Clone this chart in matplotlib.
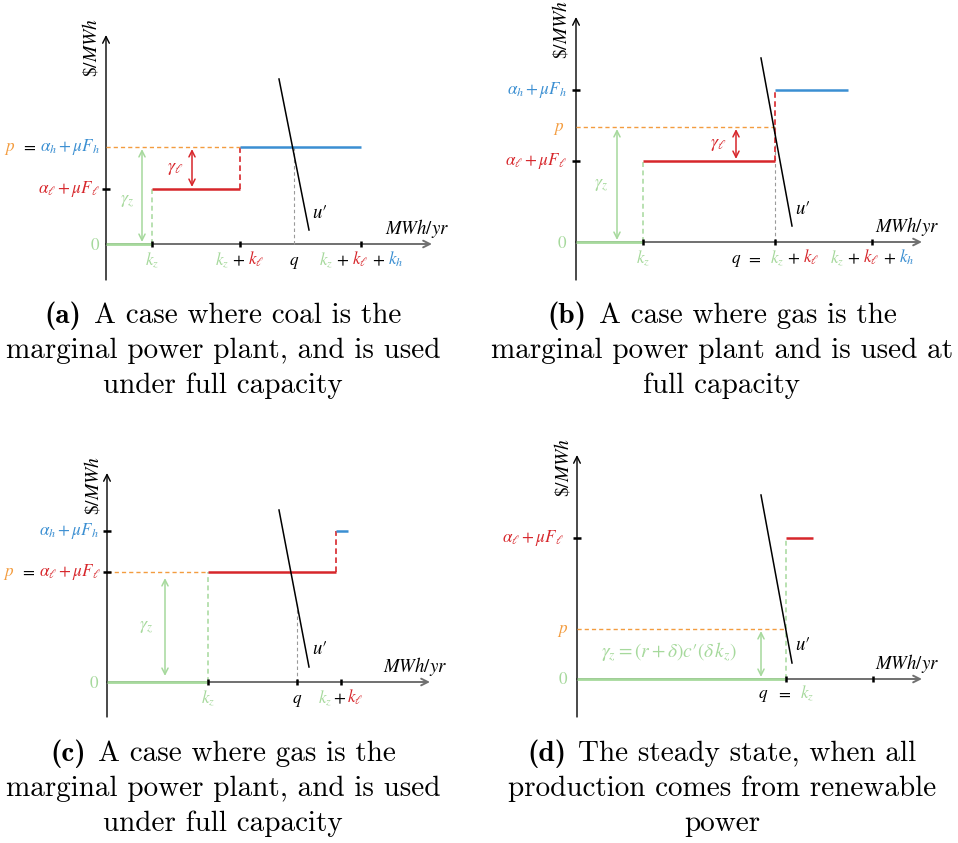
import matplotlib
matplotlib.use('Agg')
import matplotlib.pyplot as plt
from matplotlib.transforms import offset_copy

plt.rcParams['mathtext.fontset'] = 'stix'
plt.rcParams['lines.scale_dashes'] = False

W, H = 958, 843
fig = plt.figure(figsize=(W / 100, H / 100), dpi=100)
fig.patch.set_facecolor('white')

GREEN = '#a6d99c'
RED = '#d7262b'
BLUE = '#3b8fd2'
ORANGE = '#f39c3f'
GRAYAX = '#707070'
GRAYD = '#9a9a9a'
FS = 12.3
CAP_FS = 21

# ---------------- data (schematic units) ----------------
# (a) coal marginal, under full capacity
a_caps = [4.6, 8.8, 12.1]          # k_z, k_l, k_h
a_costs = [0.0, 5.5, 9.7]          # renewable, coal (alpha_l+muF_l), gas (alpha_h+muF_h)
a_price = 9.7
a_q = 18.8
a_demand_x = [17.3, 20.3]
a_demand_y = [16.5, 1.4]

# (b) gas marginal, used at full capacity
b_caps = [6.7, 13.2, 9.7]
b_costs = [0.0, 8.1, 15.2]
b_price = 11.5
b_q = 19.9
b_gas_end = 27.2
b_demand_x = [18.5, 21.6]
b_demand_y = [18.4, 1.6]

# (c) gas marginal, under full capacity
c_caps = [10.1, 13.3]
c_costs = [0.0, 11.0, 15.1]
c_price = 11.0
c_q = 19.0
c_gas_end = 22.9
c_coal_end = 24.1
c_demand_x = [17.2, 20.2]
c_demand_y = [17.2, 1.5]

# (d) steady state, renewables only
d_caps = [20.9]
d_costs = [0.0, 14.1]
d_price = 5.0
d_extra_tick = 29.6
d_gas_end = 23.6
d_demand_x = [18.4, 21.5]
d_demand_y = [18.4, 1.6]

CAPTIONS = {
    'a': ('(a)', 'A case where coal is the', 'marginal power plant, and is used', 'under full capacity'),
    'b': ('(b)', 'A case where gas is the', 'marginal power plant and is used at', 'full capacity'),
    'c': ('(c)', 'A case where gas is the', 'marginal power plant, and is used', 'under full capacity'),
    'd': ('(d)', 'The steady state, when all', 'production comes from renewable', 'power'),
}

# ---------------- helpers ----------------
XL = (-12.0, 37.0)
YL = (-5.0, 24.0)
S = 10.0  # pixels per schematic unit


def make_ax(ox, oy):
    left = (ox + XL[0] * S) / W
    bottom = (H - oy + YL[0] * S) / H
    ax = fig.add_axes([left, bottom, (XL[1] - XL[0]) * S / W, (YL[1] - YL[0]) * S / H])
    ax.set_xlim(XL)
    ax.set_ylim(YL)
    ax.set_axis_off()
    return ax


def rich(ax, x, y, pieces, ha='left', dx=0.0, dy=0.0, size=FS):
    """pieces: list of (text, color, gap_before_px, family or None)"""
    r = fig.canvas.get_renderer()
    widths = []
    for p in pieces:
        s, c, g, fam = p
        kw = {'family': fam} if fam else {}
        t = ax.text(0, 0, s, fontsize=size, **kw)
        widths.append(t.get_window_extent(renderer=r).width)
        t.remove()
    total = sum(widths) + sum(p[2] for p in pieces[1:])
    start = {'left': 0.0, 'center': -total / 2.0, 'right': -total}[ha]
    pos = start + dx
    for i, (p, w) in enumerate(zip(pieces, widths)):
        s, c, g, fam = p
        if i > 0:
            pos += g
        kw = {'family': fam} if fam else {}
        tr = offset_copy(ax.transData, fig=fig, x=pos, y=dy, units='dots')
        ax.text(x, y, s, color=c, fontsize=size, transform=tr, ha='left', va='baseline', **kw)
        pos += w


def P(s, c='black', g=0.0, fam=None):
    return (s, c, g, fam)


def draw_axes(ax, xend, ytop, ybot):
    ax.annotate('', xy=(xend, 0), xytext=(0, 0), zorder=1,
                arrowprops=dict(arrowstyle='->', color=GRAYAX, lw=1.4, shrinkA=0, shrinkB=0,
                                mutation_scale=12))
    ax.annotate('', xy=(0, ytop), xytext=(0, ybot), zorder=1,
                arrowprops=dict(arrowstyle='->', color='black', lw=1.0, shrinkA=0, shrinkB=0,
                                mutation_scale=12))
    ax.text(-1.5, ytop - 1.3, r'$\$/MWh$', rotation=90, ha='center', va='center', fontsize=14)
    ax.text(xend + 1.7, 1.0, r'$MWh/yr$', ha='right', va='baseline', fontsize=13.5)


def hseg(ax, x0, x1, y, color, lw=1.8, dashed=False, z=3):
    kw = dict(dashes=(3.0, 2.2)) if dashed else {}
    ax.plot([x0, x1], [y, y], color=color, lw=lw, zorder=z, solid_capstyle='butt', **kw)


def vseg(ax, x, y0, y1, color, lw=1.0, dashes=(3.5, 2.5), z=2):
    ax.plot([x, x], [y0, y1], color=color, lw=lw, zorder=z, dashes=dashes)


def darrow(ax, x, y0, y1, color):
    ax.annotate('', xy=(x, y1), xytext=(x, y0), zorder=3,
                arrowprops=dict(arrowstyle='<->', color=color, lw=1.1, shrinkA=1.5, shrinkB=1.5,
                                mutation_scale=11))


def yticks(ax, ys):
    ax.plot([0] * len(ys), ys, ls='none', marker='_', ms=6, mew=1.8, color='black', zorder=5)


def xticks(ax, xs):
    ax.plot(xs, [0] * len(xs), ls='none', marker='|', ms=4, mew=1.8, color='black', zorder=5)


def demand(ax, xs, ys):
    ax.plot(xs, ys, color='black', lw=1.1, zorder=4)
    ax.text(xs[1] + 0.3, ys[1] + 1.8, '$u\u2032$', ha='left', va='center', fontsize=13.5)


YDX = -6.0
YDY = -4.0
XDY = -21.0

KZ = P(r'$k_z$', GREEN)
KL = P(r'$k_\ell$', RED, 3)
PLUS = P(r'$+$', 'black', 3)
COAL = r'$\alpha_\ell+\mu F_\ell$'
GAS = r'$\alpha_h+\mu F_h$'
ORLW = 1.0

# ---------------- panel (a) ----------------
ax = make_ax(106, 244)
kz, kl, kh = a_caps
draw_axes(ax, 32.6, 20.9, -3.6)
hseg(ax, 0, kz, a_costs[0], GREEN, lw=2.0)
vseg(ax, kz, a_costs[0], a_costs[1], GREEN, lw=1.1)
hseg(ax, kz, kz + kl, a_costs[1], RED)
vseg(ax, kz + kl, a_costs[1], a_costs[2], RED, lw=1.2, dashes=(4, 2.5))
hseg(ax, kz + kl, kz + kl + kh, a_costs[2], BLUE)
hseg(ax, 0, kz + kl, a_price, ORANGE, lw=ORLW, dashed=True, z=2)
vseg(ax, a_q, 0, a_price, GRAYD, lw=0.8, dashes=(2.5, 2.0))
demand(ax, a_demand_x, a_demand_y)
darrow(ax, 3.6, 0, a_price, GREEN)
darrow(ax, 8.6, a_costs[1], a_costs[2], RED)
ax.text(3.6 - 0.8, a_price / 2 - 0.5, r'$\gamma_z$', color=GREEN, ha='right', va='center', fontsize=13)
ax.text(8.6 - 0.8, (a_costs[1] + a_costs[2]) / 2, r'$\gamma_\ell$', color=RED, ha='right', va='center', fontsize=13)
yticks(ax, [a_costs[1]])
xticks(ax, [kz, kz + kl, kz + kl + kh])
rich(ax, 0, a_price, [P(r'$p$', ORANGE), P(r'$=$', 'black', 6), P(GAS, BLUE, 3)], ha='right', dx=YDX, dy=YDY)
rich(ax, 0, a_costs[1], [P(COAL, RED)], ha='right', dx=YDX, dy=YDY)
rich(ax, 0, 0, [P(r'$0$', GREEN)], ha='right', dx=YDX, dy=-5.5)
rich(ax, kz, 0, [KZ], ha='center', dy=XDY)
rich(ax, kz + kl, 0, [KZ, PLUS, KL], ha='center', dy=XDY)
rich(ax, a_q, 0, [P(r'$q$')], ha='center', dy=XDY)
rich(ax, kz + kl + kh, 0, [KZ, PLUS, KL, PLUS, P(r'$k_h$', BLUE, 3)], ha='center', dy=XDY)

# ---------------- panel (b) ----------------
ax = make_ax(576, 242)
kz, kl, kh = b_caps
draw_axes(ax, 34.6, 22.5, -3.8)
hseg(ax, 0, kz, b_costs[0], GREEN, lw=2.0)
vseg(ax, kz, b_costs[0], b_costs[1], GREEN, lw=1.1)
hseg(ax, kz, kz + kl, b_costs[1], RED)
vseg(ax, kz + kl, b_costs[1], b_costs[2], RED, lw=1.2, dashes=(4, 2.5), z=3)
hseg(ax, kz + kl, b_gas_end, b_costs[2], BLUE)
hseg(ax, 0, b_q, b_price, ORANGE, lw=ORLW, dashed=True, z=2)
vseg(ax, b_q, 0, b_price, GRAYD, lw=0.8, dashes=(2.5, 2.0))
demand(ax, b_demand_x, b_demand_y)
darrow(ax, 4.1, 0, b_price, GREEN)
darrow(ax, 16.0, b_costs[1], b_price, RED)
ax.text(4.1 - 0.9, b_price / 2, r'$\gamma_z$', color=GREEN, ha='right', va='center', fontsize=13)
ax.text(16.0 - 0.9, (b_costs[1] + b_price) / 2, r'$\gamma_\ell$', color=RED, ha='right', va='center', fontsize=13)
yticks(ax, [b_costs[1], b_costs[2]])
xticks(ax, [kz, kz + kl, kz + kl + kh])
rich(ax, 0, b_costs[2], [P(GAS, BLUE)], ha='right', dx=YDX - 3, dy=YDY)
rich(ax, 0, b_price, [P(r'$p$', ORANGE)], ha='right', dx=YDX - 6, dy=YDY)
rich(ax, 0, b_costs[1], [P(COAL, RED)], ha='right', dx=YDX - 3, dy=YDY)
rich(ax, 0, 0, [P(r'$0$', GREEN)], ha='right', dx=YDX - 3, dy=-5.5)
rich(ax, kz, 0, [KZ], ha='center', dy=XDY)
rich(ax, b_q, 0, [P(r'$q$'), P(r'$=$', 'black', 5), P(r'$k_z$', GREEN, 8), PLUS, KL], ha='center', dy=XDY)
rich(ax, kz + kl + kh, 0, [KZ, PLUS, KL, PLUS, P(r'$k_h$', BLUE, 3)], ha='center', dy=XDY)

# ---------------- panel (c) ----------------
ax = make_ax(107, 682)
kz, kl = c_caps
draw_axes(ax, 32.3, 20.9, -3.5)
hseg(ax, 0, kz, c_costs[0], GREEN, lw=2.0)
vseg(ax, kz, c_costs[0], c_costs[1], GREEN, lw=1.1)
hseg(ax, kz, c_gas_end, c_costs[1], RED)
vseg(ax, c_gas_end, c_costs[1], c_costs[2], RED, lw=1.2, dashes=(4, 2.5))
hseg(ax, c_gas_end, c_coal_end, c_costs[2], BLUE)
hseg(ax, 0, kz, c_price, ORANGE, lw=ORLW, dashed=True, z=2)
slope = (c_demand_y[1] - c_demand_y[0]) / (c_demand_x[1] - c_demand_x[0])
vseg(ax, c_q, 0, c_demand_y[0] + slope * (c_q - c_demand_x[0]), GRAYD, lw=0.8, dashes=(2.5, 2.0))
demand(ax, c_demand_x, c_demand_y)
darrow(ax, 5.8, 0.4, c_price - 0.4, GREEN)
ax.text(5.8 - 1.2, c_price / 2, r'$\gamma_z$', color=GREEN, ha='right', va='center', fontsize=13)
yticks(ax, [c_costs[1], c_costs[2]])
xticks(ax, [kz, c_q, kz + kl])
rich(ax, 0, c_costs[2], [P(GAS, BLUE)], ha='right', dx=YDX - 2, dy=YDY)
rich(ax, 0, c_price, [P(r'$p$', ORANGE), P(r'$=$', 'black', 6), P(COAL, RED, 3)], ha='right', dx=YDX, dy=YDY)
rich(ax, 0, 0, [P(r'$0$', GREEN)], ha='right', dx=YDX - 2, dy=-5.5)
rich(ax, kz, 0, [KZ], ha='center', dy=XDY)
rich(ax, c_q, 0, [P(r'$q$')], ha='center', dy=XDY)
rich(ax, kz + kl, 0, [KZ, P(r'$+$', 'black', 1), P(r'$k_\ell$', RED, 1)], ha='center', dy=XDY)

# ---------------- panel (d) ----------------
ax = make_ax(577, 679)
kz = d_caps[0]
draw_axes(ax, 34.5, 22.4, -3.8)
hseg(ax, 0, kz, d_costs[0], GREEN, lw=2.0)
vseg(ax, kz, d_costs[0], d_costs[1], GREEN, lw=1.1)
hseg(ax, kz, d_gas_end, d_costs[1], RED)
hseg(ax, 0, kz, d_price, ORANGE, lw=ORLW, dashed=True, z=2)
demand(ax, d_demand_x, d_demand_y)
darrow(ax, 18.4, 0, d_price, GREEN)
ax.text(18.4 - 2.4, d_price / 2 + 0.2, '$\\gamma_z=(r+\\delta)c\u2032(\\delta\\,k_z)$', color=GREEN,
        ha='right', va='center', fontsize=14)
yticks(ax, [d_costs[1]])
xticks(ax, [kz, d_extra_tick])
rich(ax, 0, d_costs[1], [P(COAL, RED)], ha='right', dx=YDX - 7, dy=YDY)
rich(ax, 0, d_price, [P(r'$p$', ORANGE)], ha='right', dx=YDX - 3, dy=YDY)
rich(ax, 0, 0, [P(r'$0$', GREEN)], ha='right', dx=YDX - 3, dy=-5.5)
rich(ax, kz, 0, [P(r'$q$'), P(r'$=$', 'black', 8), P(r'$k_z$', GREEN, 8)], ha='center', dy=-19)

# ---------------- captions ----------------
cap = fig.add_axes([0, 0, 1, 1])
cap.set_xlim(0, W)
cap.set_ylim(H, 0)
cap.set_axis_off()
cap.patch.set_alpha(0)
CAP_POS = {'a': (223, 323), 'b': (722, 323), 'c': (223, 761), 'd': (722, 761)}
for key, (lab, l1, l2, l3) in CAPTIONS.items():
    cx, y0 = CAP_POS[key]
    rich(cap, cx, y0, [P(lab, 'black', 0, 'cmb10'), P(l1, 'black', 12, 'cmr10')], ha='center', size=CAP_FS)
    rich(cap, cx, y0 + 35, [P(l2, 'black', 0, 'cmr10')], ha='center', size=CAP_FS)
    rich(cap, cx, y0 + 70, [P(l3, 'black', 0, 'cmr10')], ha='center', size=CAP_FS)

fig.savefig('out.png', dpi=100, facecolor='white')
